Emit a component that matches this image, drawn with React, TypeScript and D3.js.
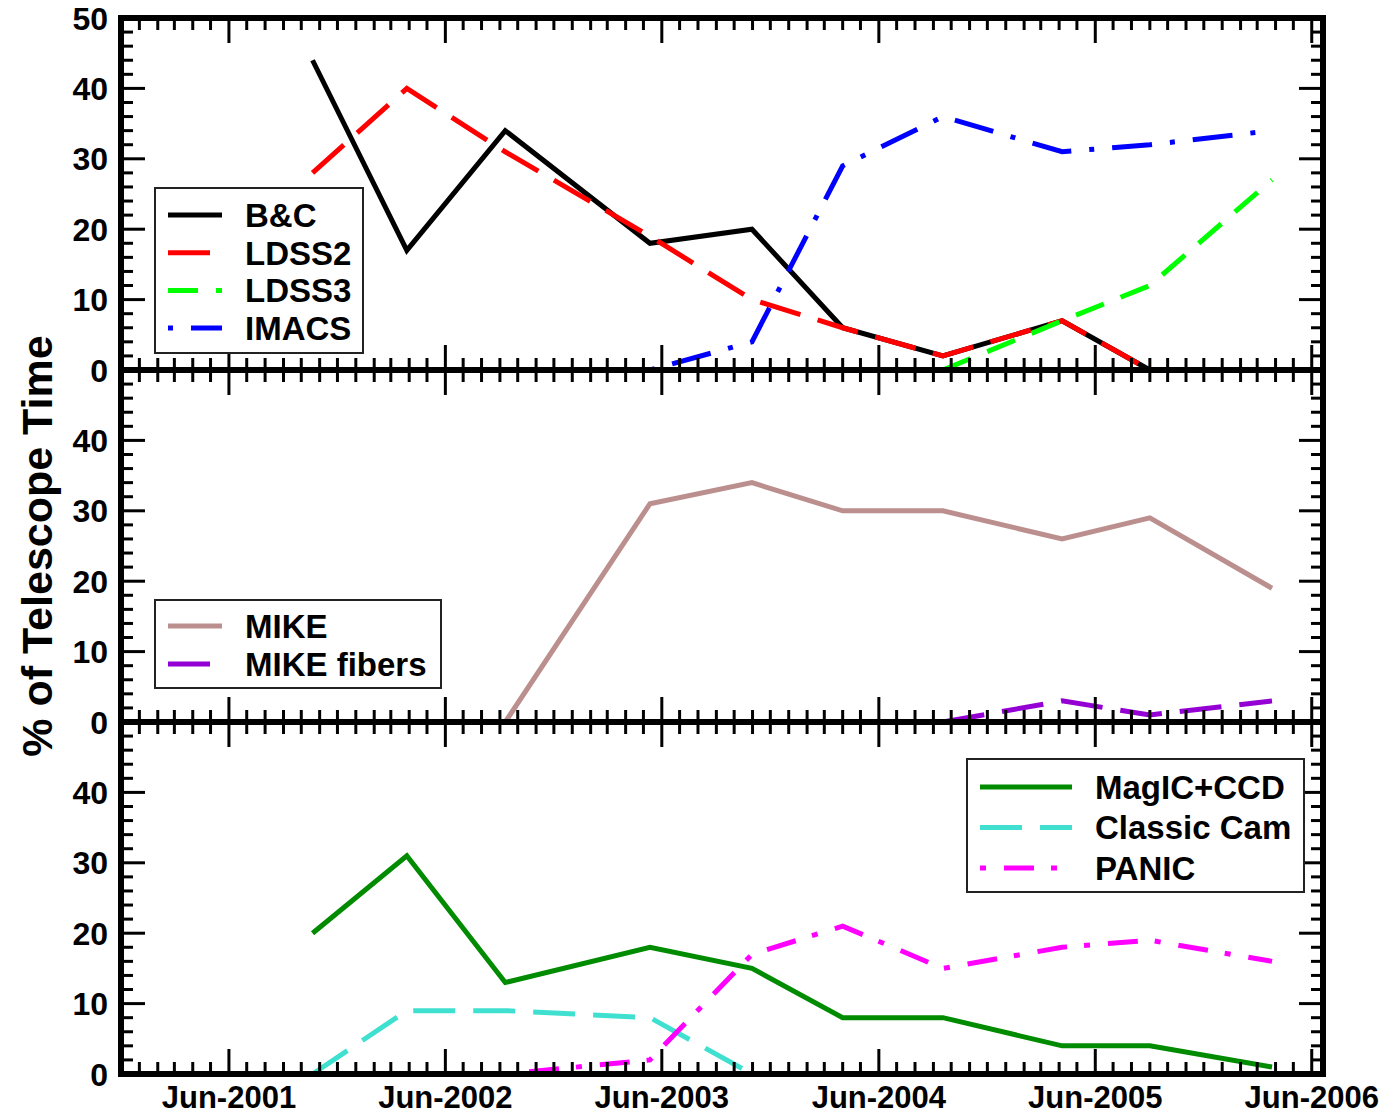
import React, { useEffect, useRef } from 'react';
import * as d3 from 'd3';

// observing semesters (x of every point)
const periods = ['2001-10-20', '2002-03-28', '2002-09-10', '2003-05-12', '2003-10-31',
    '2004-04-01', '2004-09-17', '2005-04-06', '2005-09-01', '2006-03-26'];

// top panel
const bcValues = [44, 17, 34, 18, 20, 6, 2, 7, 0, null];
const ldss2Values = [28, 40, 31, 19, 10, 6, 2, 7, 0, null];
const ldss3Values = [null, null, null, null, null, null, 0, 7, 12, 27];
const imacsValues = [null, null, null, 0, 4, 29, 36, 31, 32, 34];
// middle panel
const mikeValues = [null, null, 0, 31, 34, 30, 30, 26, 29, 19];
const mikeFiberValues = [null, null, null, null, null, null, 0, 3, 1, 3];
// bottom panel
const magicValues = [20, 31, 13, 18, 15, 8, 8, 4, 4, 1];
const classicCamValues = [0, 9, 9, 8, 0, null, null, null, null, null];
const panicValues = [null, null, 0, 2, 17, 21, 15, 18, 19, 16];

const xTickLabels = ['Jun-2001', 'Jun-2002', 'Jun-2003', 'Jun-2004', 'Jun-2005', 'Jun-2006'];
const yTickTop = [0, 10, 20, 30, 40, 50];
const yTickOther = [0, 10, 20, 30, 40];

const FONT = '"Liberation Sans", Arial, Helvetica, sans-serif';

export default function App() {
    const ref = useRef<SVGSVGElement>(null);

    useEffect(() => {
        const svg = d3.select(ref.current);
        svg.selectAll('*').remove();

        const left = 121, right = 1323, top = 18, panelH = 352;
        const parse = d3.utcParse('%Y-%m-%d');
        const parseTick = d3.utcParse('%b-%Y');

        const x = d3.scaleUtc()
            .domain([parse('2000-12-01') as Date, parse('2006-06-20') as Date])
            .range([left, right]);

        const panels = [
            {
                ticks: yTickTop,
                series: [
                    { name: 'B&C', values: bcValues, color: '#000000', dash: null },
                    { name: 'LDSS2', values: ldss2Values, color: '#ff0000', dash: '42 18' },
                    { name: 'LDSS3', values: ldss3Values, color: '#00ff00', dash: '30 18' },
                    { name: 'IMACS', values: imacsValues, color: '#0000ff', dash: '5 18 40 18' },
                ],
                legend: { x: 155, y: 188, w: 208, h: 165, lx1: 168, lx2: 222, tx: 245, first: 215, step: 37.7 },
            },
            {
                ticks: yTickOther,
                series: [
                    { name: 'MIKE', values: mikeValues, color: '#bc8f8f', dash: null },
                    { name: 'MIKE fibers', values: mikeFiberValues, color: '#9400d3', dash: '42 18' },
                ],
                legend: { x: 155, y: 600, w: 286, h: 88, lx1: 168, lx2: 222, tx: 245, first: 626, step: 38 },
            },
            {
                ticks: yTickOther,
                series: [
                    { name: 'MagIC+CCD', values: magicValues, color: '#008b00', dash: null },
                    { name: 'Classic Cam', values: classicCamValues, color: '#40e0d0', dash: '42 18' },
                    { name: 'PANIC', values: panicValues, color: '#ff00ff', dash: '6 18 30 17' },
                ],
                legend: { x: 967, y: 759, w: 337, h: 133, lx1: 980, lx2: 1072, tx: 1095, first: 787, step: 40.5 },
            },
        ];

        const months = x.ticks(d3.utcMonth.every(1) as any);

        panels.forEach((p, pi) => {
            const y0 = top + pi * panelH;
            const y1 = y0 + panelH;
            const y = d3.scaleLinear().domain([0, 50]).range([y1, y0]);
            const g = svg.append('g');

            // lines
            p.series.forEach(s => {
                const line = d3.line<number | null>()
                    .defined(v => v != null)
                    .x((_, i) => x(parse(periods[i]) as Date))
                    .y(v => y(v as number));
                g.append('path')
                    .attr('d', line(s.values))
                    .attr('fill', 'none')
                    .attr('stroke', s.color)
                    .attr('stroke-width', 5)
                    .attr('stroke-linejoin', 'miter')
                    .attr('stroke-dasharray', s.dash)
            });

            // y ticks, every 2 with long ones every 10
            d3.range(0, 51, 2).forEach(v => {
                const len = v % 10 === 0 ? 24 : 12;
                g.append('line').attr('x1', left).attr('x2', left + len)
                    .attr('y1', y(v)).attr('y2', y(v)).attr('stroke', '#000').attr('stroke-width', 3);
                g.append('line').attr('x1', right).attr('x2', right - len)
                    .attr('y1', y(v)).attr('y2', y(v)).attr('stroke', '#000').attr('stroke-width', 3);
            });
            // x ticks, monthly with long ones in June
            months.forEach(d => {
                const len = d.getUTCMonth() === 5 ? 25 : 12;
                g.append('line').attr('x1', x(d)).attr('x2', x(d))
                    .attr('y1', y0).attr('y2', y0 + len).attr('stroke', '#000').attr('stroke-width', 3);
                g.append('line').attr('x1', x(d)).attr('x2', x(d))
                    .attr('y1', y1).attr('y2', y1 - len).attr('stroke', '#000').attr('stroke-width', 3);
            });

            g.append('rect')
                .attr('x', left).attr('y', y0)
                .attr('width', right - left).attr('height', panelH)
                .attr('fill', 'none').attr('stroke', '#000').attr('stroke-width', 6);

            g.selectAll('.ylab')
                .data(p.ticks)
                .enter()
                .append('text')
                .attr('x', 108)
                .attr('y', d => y(d) + 11.5)
                .attr('text-anchor', 'end')
                .style('font', `bold 32px ${FONT}`)
                .text(d => d);

            // legend
            const L = p.legend;
            g.append('rect')
                .attr('x', L.x).attr('y', L.y).attr('width', L.w).attr('height', L.h)
                .attr('fill', '#fff').attr('stroke', '#222').attr('stroke-width', 2);
            p.series.forEach((s, i) => {
                const ly = L.first + i * L.step;
                g.append('line')
                    .attr('x1', L.lx1).attr('x2', L.lx2).attr('y1', ly).attr('y2', ly)
                    .attr('stroke', s.color).attr('stroke-width', 5)
                    .attr('stroke-dasharray', s.dash);
                g.append('text')
                    .attr('x', L.tx).attr('y', ly + 11.8)
                    .style('font', `bold 33px ${FONT}`)
                    .text(s.name);
            });
        });

        // x tick labels under bottom panel
        const bottom = top + 3 * panelH;
        svg.selectAll('.xlab')
            .data(xTickLabels)
            .enter()
            .append('text')
            .attr('x', d => x(parseTick(d) as Date))
            .attr('y', bottom + 34)
            .attr('text-anchor', 'middle')
            .style('font', `bold 31px ${FONT}`)
            .text(d => d);

        svg.append('text')
            .attr('transform', `translate(52,${top + 1.5 * panelH}) rotate(-90)`)
            .attr('text-anchor', 'middle')
            .style('font', `bold 43px ${FONT}`)
            .text('% of Telescope Time');
    }, []);

    return (
        <svg ref={ref} width={1393} height={1116}
            style={{ position: 'absolute', left: 0, top: 0, background: '#fff' }} />
    );
}
